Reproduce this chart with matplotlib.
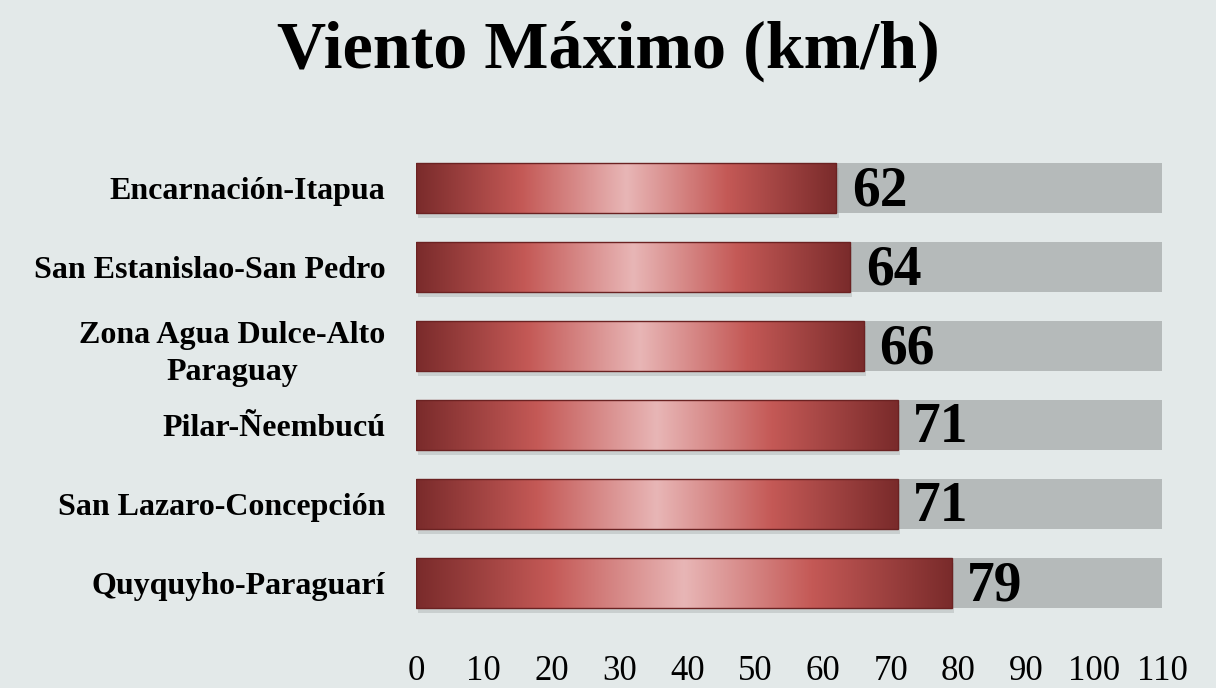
import numpy as np
import matplotlib
matplotlib.use("Agg")
import matplotlib.pyplot as plt
from matplotlib.colors import LinearSegmentedColormap
from matplotlib.patches import Rectangle

stations = ["Encarnación-Itapua", "San Estanislao-San Pedro",
            "Zona Agua Dulce-Alto\nParaguay", "Pilar-Ñeembucú",
            "San Lazaro-Concepción", "Quyquyho-Paraguarí"]
wind_max = [62, 64, 66, 71, 71, 79]
xticks = [0, 10, 20, 30, 40, 50, 60, 70, 80, 90, 100, 110]
xmax = 110

bg = "#E3E9E9"
grad = LinearSegmentedColormap.from_list(
    "bar", [(0.0, "#7A2B2B"), (0.25, "#C45956"),
            (0.5, "#E8B6B6"), (0.74, "#C45956"),
            (1.0, "#7A2B2B")])

plt.rcParams['font.family'] = ['Liberation Serif', 'DejaVu Serif']

fig = plt.figure(figsize=(12.16, 6.88), dpi=100, facecolor=bg)
ax = fig.add_axes([0.3421, 0.0837, 0.6135, 0.7119])
ax.set_facecolor(bg)

ypos = np.arange(len(stations))
h = 0.63
ax.barh(ypos, [xmax] * len(ypos), height=h, color="#B5BABA", zorder=1)

for y, v in zip(ypos, wind_max):
    # sombra
    ax.add_patch(Rectangle((0.3, y - h / 2 + 0.06), v, h, color="#9aa0a0",
                           alpha=0.35, zorder=1.5, lw=0))
    rect = Rectangle((0, y - h / 2), v, h, facecolor="none",
                     edgecolor="#6B2222", lw=1.0, zorder=3)
    ax.add_patch(rect)
    img = ax.imshow(np.linspace(0, 1, 256).reshape(1, -1), cmap=grad,
                    aspect="auto", extent=(0, v, y + h / 2, y - h / 2),
                    zorder=2, interpolation="bilinear")
    img.set_clip_path(rect)
    ax.text(v + 2.3, y + 0.04, str(v), va="center", ha="left",
            fontsize=40, fontweight="bold", color="black", zorder=4)

ax.set_xlim(0, xmax)
ax.set_ylim(len(stations) - 0.4, -0.6)
ax.set_xticks(xticks)
ax.set_xticklabels([str(t) for t in xticks], fontsize=25)
ax.set_yticks(ypos)
ax.set_yticklabels(stations, fontsize=23, fontweight="bold",
                   multialignment="center", linespacing=1.4)
ax.tick_params(axis="both", length=0)
ax.tick_params(axis="x", pad=18)
ax.tick_params(axis="y", pad=22)
for s in ax.spines.values():
    s.set_visible(False)

fig.text(0.5, 0.926, "Viento Máximo (km/h)", ha="center", va="center",
         fontsize=49, fontweight="bold")

fig.savefig("out.png", dpi=100, facecolor=bg)
